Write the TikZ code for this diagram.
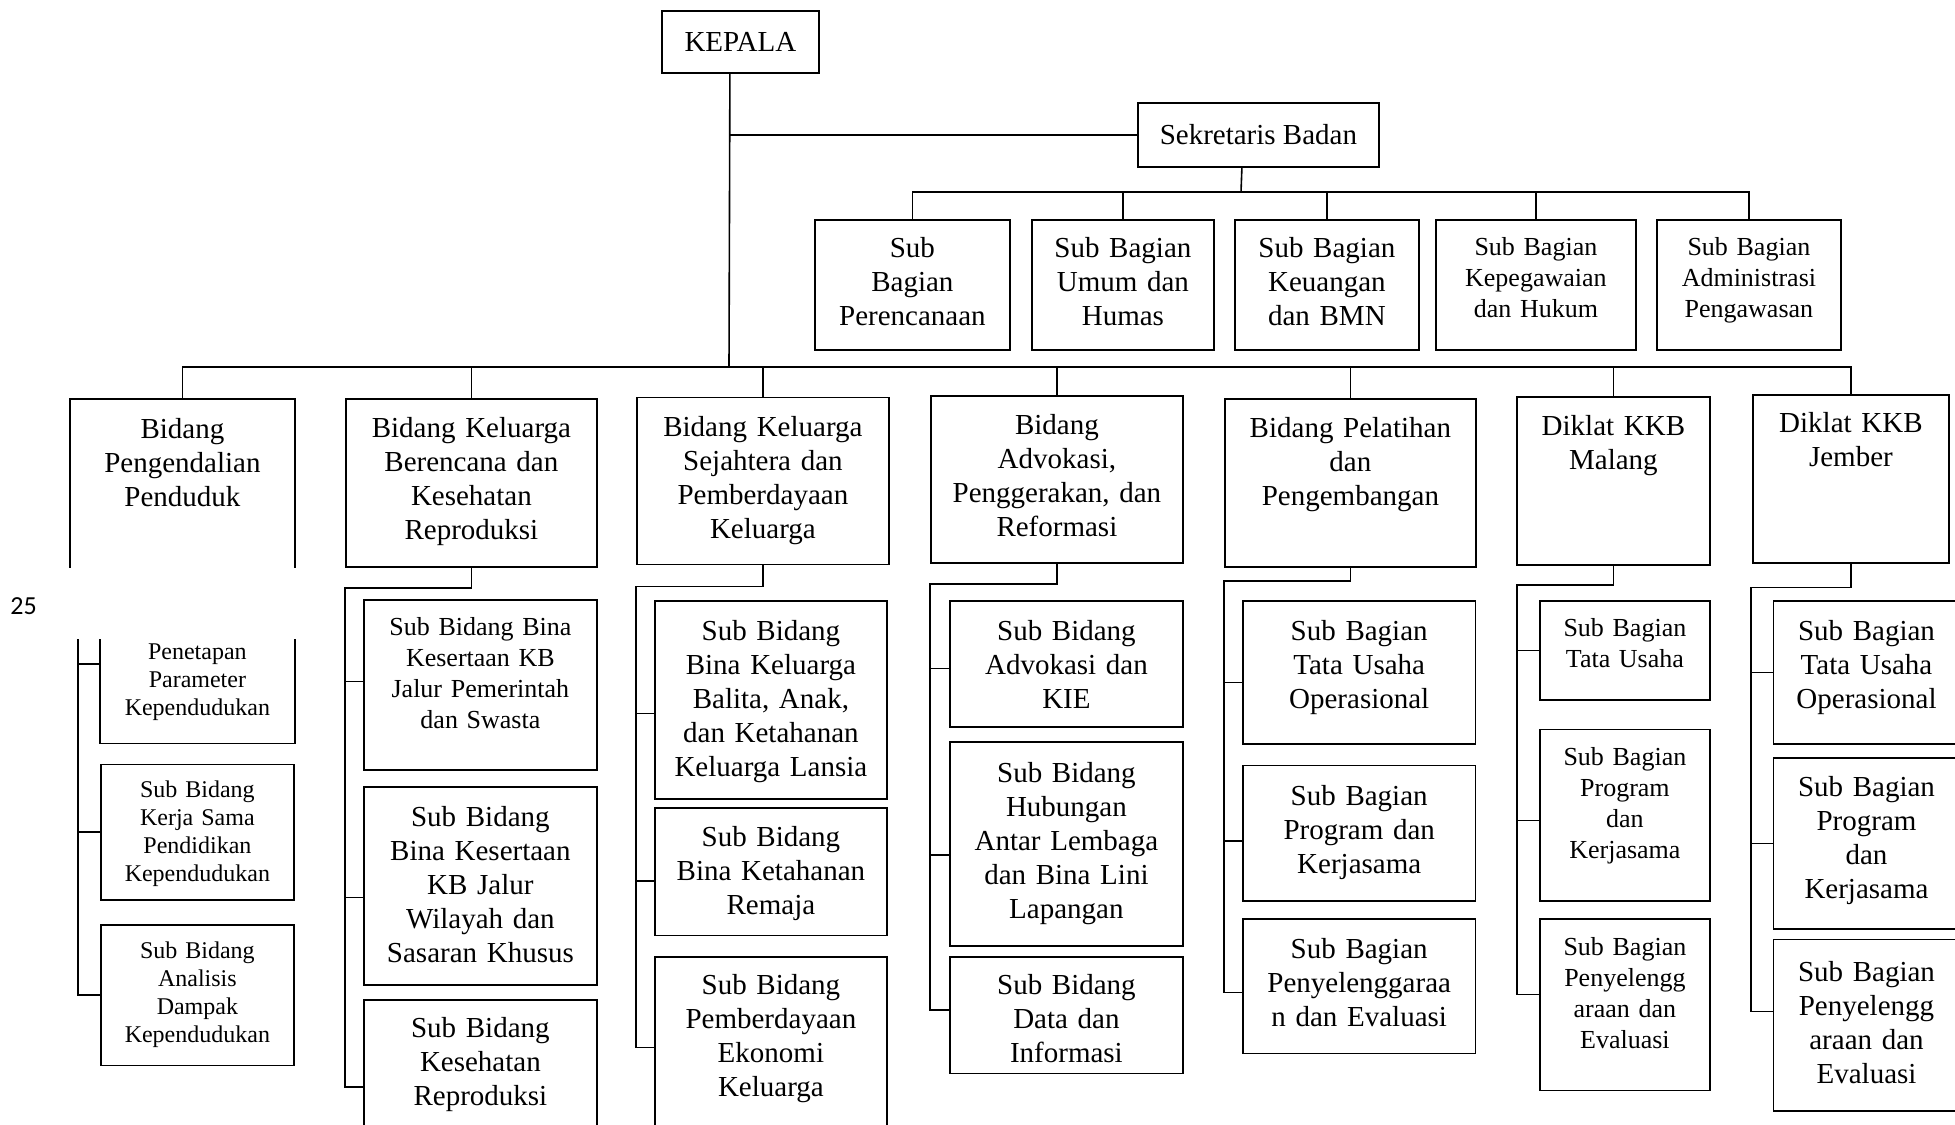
\documentclass[tikz,border=0pt]{standalone}
\usepackage{fontspec}
\setmainfont{Liberation Serif}
\newfontfamily\pagefont{Carlito}
\usepackage{tikz}
\tikzset{
  head/.style={draw,line width=0.9bp,anchor=north west,inner sep=0pt,font=\fontsize{14.5bp}{17bp}\selectfont},
  unit/.style={draw,line width=0.9bp,anchor=north west,inner sep=0pt,align=center,font=\fontsize{14.5bp}{17bp}\selectfont,text height=19.5bp},
  unitsmall/.style={unit,font=\fontsize{13bp}{15.5bp}\selectfont,text height=18bp},
  unittiny/.style={unit,font=\fontsize{12bp}{14bp}\selectfont,text height=16.7bp},
  frame/.style={line width=0.9bp},
  link/.style={line width=0.8bp}
}

\begin{document}
\begin{tikzpicture}
\useasboundingbox (0bp,0bp) rectangle (977.5bp,-562.5bp);
\clip (0bp,0bp) rectangle (977.5bp,-562.5bp);
% Kepala dan sekretariat

\node (KEPALA) at (330.5bp,-5bp)[head,minimum width=78.5bp,minimum height=31bp] {KEPALA};
\node (Sekretaris) at (568.5bp,-51bp)[head,minimum width=120.5bp,minimum height=32bp] {Sekretaris Badan};
\node (SB1) at (407bp,-109.5bp)[unit,text width=97.5bp,text height=19bp,text depth=46bp] {Sub\\Bagian\\Perencanaan};
\node (SB2) at (515.5bp,-109.5bp)[unit,text width=91bp,text height=19bp,text depth=46bp] {Sub Bagian\\Umum dan\\Humas};
\node (SB3) at (617bp,-109.5bp)[unit,text width=92bp,text height=19bp,text depth=46bp] {Sub Bagian\\Keuangan\\dan BMN};
\node (SB4) at (717.5bp,-109.5bp)[unitsmall,text width=100bp,text depth=47bp] {Sub Bagian\\Kepegawaian\\dan Hukum};
\node (SB5) at (828bp,-109.5bp)[unitsmall,text width=92bp,text depth=47bp] {Sub Bagian\\Administrasi\\Pengawasan};
\coordinate (bus) at (364.5bp,-183.5bp);
\coordinate (secbus) at (620.5bp,-96bp);
\draw [link] ([xshift=-5.25bp]KEPALA.south) to (bus);
\draw [link] (Sekretaris.west) to (Sekretaris.west -| bus);
\draw [link] ([xshift=-8.25bp]Sekretaris.south) to (secbus);
\draw [link] (SB1.north) |- (secbus) -| (SB5.north);
\draw [link] (SB2.north) to (SB2.north |- secbus);
\draw [link] (SB3.north) to (SB3.north |- secbus);
\draw [link] (SB4.north) to (SB4.north |- secbus);

% Bidang
\node (B1) at (35bp,-199.5bp)[unit,draw=none,text width=111.5bp,text depth=64bp] {Bidang\\Pengendalian\\Penduduk};
\node (B2) at (172.5bp,-199bp)[unit,text width=125.5bp,text depth=64.5bp] {Bidang Keluarga\\Berencana dan\\Kesehatan\\Reproduksi};
\node (B3) at (318bp,-198.3bp)[unit,text width=126bp,text depth=64bp] {Bidang Keluarga\\Sejahtera dan\\Pemberdayaan\\Keluarga};
\node (B4) at (465bp,-197.5bp)[unit,text width=126bp,text depth=64bp] {Bidang\\Advokasi,\\Penggerakan, dan\\Reformasi};
\node (B5) at (612bp,-199bp)[unit,text width=125.5bp,text depth=64.5bp] {Bidang Pelatihan\\dan\\Pengembangan};
\node (B6) at (758bp,-198bp)[unit,text width=96.5bp,text depth=64.5bp] {Diklat KKB\\Malang};
\node (B7) at (876bp,-197bp)[unit,text width=98bp,text height=19bp,text depth=65bp] {Diklat KKB\\Jember};
\draw [frame] (B1.south west) to (B1.north west) to (B1.north east) to (B1.south east);
\draw [link] (B1.north) |- (bus) -| (B7.north);
\draw [link] (B2.north) to (B2.north |- bus);
\draw [link] (B3.north) to (B3.north |- bus);
\draw [link] (B4.north) to (B4.north |- bus);
\draw [link] (B5.north) to (B5.north |- bus);
\draw [link] (B6.north) to (B6.north |- bus);
\node (pagenum) at (11.75bp,-303bp)[font=\pagefont\fontsize{13bp}{15bp}\selectfont] {25};

% Sub bidang / sub bagian
\node (C1a) at (50bp,-319.5bp)[unittiny,draw=none,text width=96.5bp,text height=10bp,text depth=41.3bp] {Penetapan\\Parameter\\Kependudukan};
\node (C1b) at (50bp,-381.8bp)[unittiny,text width=96.5bp,text depth=51bp] {Sub Bidang\\Kerja Sama\\Pendidikan\\Kependudukan};
\node (C1c) at (50bp,-461.9bp)[unittiny,text width=96.5bp,text height=16.9bp,text depth=53.5bp] {Sub Bidang\\Analisis\\Dampak\\Kependudukan};
\draw [frame] (C1a.north west) to (C1a.south west) to (C1a.south east) to (C1a.north east);
\coordinate (c1) at (39bp,-319.5bp);
\draw [link] (c1) |- ([yshift=13.7bp]C1a.west);
\draw [link] (c1) |- (C1b.west);
\draw [link] (c1) |- (C1c.west);

\node (C2a) at (181.5bp,-299.7bp)[unitsmall,text width=116.5bp,text height=17.5bp,text depth=67.5bp] {Sub Bidang Bina\\Kesertaan KB\\Jalur Pemerintah\\dan Swasta};
\node (C2b) at (181.5bp,-393bp)[unit,text width=116.5bp,text height=19.6bp,text depth=79.4bp] {Sub Bidang\\Bina Kesertaan\\KB Jalur\\Wilayah dan\\Sasaran Khusus};
\node (C2c) at (181.5bp,-499.5bp)[unit,text width=116.5bp,text height=19bp,text depth=68bp] {Sub Bidang\\Kesehatan\\Reproduksi};
\coordinate (c2) at (172.5bp,-294bp);
\draw [link] (B2.south) |- (c2) |- ([yshift=2bp]C2a.west);
\draw [link] (c2) |- ([yshift=-5.8bp]C2b.west);
\draw [link] (c2) |- (C2c.west);

\node (C3a) at (327bp,-300bp)[unit,text width=116bp,text height=19.8bp,text depth=79.4bp] {Sub Bidang\\Bina Keluarga\\Balita, Anak,\\dan Ketahanan\\Keluarga Lansia};
\node (C3b) at (327bp,-403.5bp)[unit,text width=116bp,text height=19.1bp,text depth=44.7bp] {Sub Bidang\\Bina Ketahanan\\Remaja};
\node (C3c) at (327bp,-478bp)[unit,text width=116bp,text height=19bp,text depth=71.6bp] {Sub Bidang\\Pemberdayaan\\Ekonomi\\Keluarga};
\coordinate (c3) at (318bp,-293.3bp);
\draw [link] (B3.south) |- (c3) |- ([yshift=-6.6bp]C3a.west);
\draw [link] (c3) |- ([yshift=-4.6bp]C3b.west);
\draw [link] (c3) |- (C3c.west);

\node (C4a) at (474.5bp,-300bp)[unit,text width=116.5bp,text height=19.8bp,text depth=43.1bp] {Sub Bidang\\Advokasi dan\\KIE};
\node (C4b) at (474.5bp,-370.4bp)[unit,text width=116.5bp,text height=20.2bp,text depth=81.9bp] {Sub Bidang\\Hubungan\\Antar Lembaga\\dan Bina Lini\\Lapangan};
\node (C4c) at (474.5bp,-478bp)[unit,text width=116.5bp,text height=19bp,text depth=39.3bp] {Sub Bidang\\Data dan\\Informasi};
\coordinate (c4) at (465bp,-292bp);
\draw [link] (B4.south) |- (c4) |- ([yshift=-2.4bp]C4a.west);
\draw [link] (c4) |- ([yshift=-5.6bp]C4b.west);
\draw [link] (c4) |- ([yshift=2.5bp]C4c.west);

\node (C5a) at (621bp,-300bp)[unit,text width=116.3bp,text height=19.9bp,text depth=51.6bp] {Sub Bagian\\Tata Usaha\\Operasional};
\node (C5b) at (621bp,-382.3bp)[unit,text width=116.3bp,text height=19.9bp,text depth=47.8bp] {Sub Bagian\\Program dan\\Kerjasama};
\node (C5c) at (621bp,-459.1bp)[unit,text width=116.3bp,text height=19.9bp,text depth=47.3bp] {Sub Bagian\\Penyelenggaraa\\n dan Evaluasi};
\coordinate (c5) at (612bp,-290.6bp);
\draw [link] (B5.south) |- (c5) |- ([yshift=-5bp]C5a.west);
\draw [link] (c5) |- ([yshift=-4bp]C5b.west);
\draw [link] (c5) |- ([yshift=-3bp]C5c.west);

\node (C6a) at (769.5bp,-300bp)[unitsmall,text width=85bp,text height=17.7bp,text depth=31.7bp] {Sub Bagian\\Tata Usaha};
\node (C6b) at (769.5bp,-364.3bp)[unitsmall,text width=85bp,text height=18.2bp,text depth=67.5bp] {Sub Bagian\\Program\\dan\\Kerjasama};
\node (C6c) at (769.5bp,-459.1bp)[unitsmall,text width=85bp,text height=18.2bp,text depth=67.5bp] {Sub Bagian\\Penyelengg\\araan dan\\Evaluasi};
\coordinate (c6) at (758.5bp,-292.5bp);
\draw [link] (B6.south) |- (c6) |- (C6a.west);
\draw [link] (c6) |- ([yshift=-2.7bp]C6b.west);
\draw [link] (c6) |- ([yshift=5.2bp]C6c.west);

\node (C7a) at (886.3bp,-300bp)[unit,text width=93bp,text height=19.9bp,text depth=51.6bp] {Sub Bagian\\Tata Usaha\\Operasional};
\node (C7b) at (886.3bp,-378.7bp)[unit,text width=93bp,text height=19.2bp,text depth=66bp] {Sub Bagian\\Program\\dan\\Kerjasama};
\node (C7c) at (886.3bp,-469.3bp)[unit,text width=93bp,text height=21bp,text depth=64.9bp] {Sub Bagian\\Penyelengg\\araan dan\\Evaluasi};
\coordinate (c7) at (875.5bp,-293.8bp);
\draw [link] (B7.south) |- (c7) |- (C7a.west);
\draw [link] (c7) |- (C7b.west);
\draw [link] (c7) |- ([yshift=7bp]C7c.west);

\end{tikzpicture}
\end{document}
